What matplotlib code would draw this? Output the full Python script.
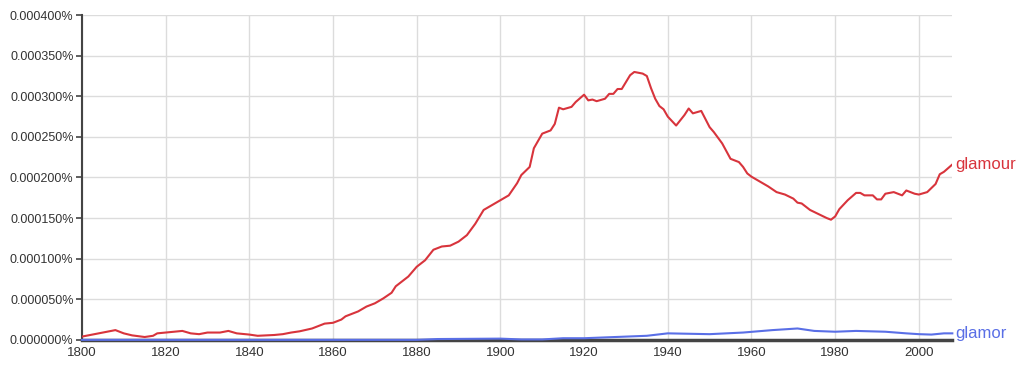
import matplotlib
matplotlib.use("Agg")
import matplotlib.pyplot as plt
from matplotlib.ticker import FuncFormatter

plt.rcParams.update({'font.family': ['Liberation Sans', 'DejaVu Sans'], 'font.size': 9})

RED = "#d8343c"; BLUE = "#5a6fe6"; GRID = "#dcdcdc"; AXIS = "#444444"

# values in units of 0.000001 %
glamour_years = [1800, 1802, 1804, 1806, 1808, 1810, 1812, 1815, 1817, 1818, 1820, 1822,
                 1824, 1826, 1828, 1830, 1833, 1835, 1837, 1840, 1842, 1844, 1846, 1848,
                 1850, 1852, 1855, 1858, 1860, 1862, 1863, 1866, 1868, 1870, 1872, 1874,
                 1875, 1878, 1880, 1882, 1884, 1886, 1888, 1890, 1892, 1894, 1896, 1898,
                 1900, 1902, 1904, 1905, 1907, 1908, 1910, 1912, 1913, 1914, 1915, 1917,
                 1918, 1920, 1921, 1922, 1923, 1925, 1926, 1927, 1928, 1929, 1931, 1932,
                 1934, 1935, 1936, 1937, 1938, 1939, 1940, 1942, 1944, 1945, 1946, 1948,
                 1950, 1951, 1953, 1955, 1956, 1957, 1958, 1959, 1960, 1962, 1964, 1966,
                 1968, 1970, 1971, 1972, 1974, 1976, 1978, 1979, 1980, 1981, 1983, 1985,
                 1986, 1987, 1989, 1990, 1991, 1992, 1994, 1996, 1997, 1998, 1999, 2000,
                 2002, 2004, 2005, 2006, 2008]
glamour_vals = [4, 6, 8, 10, 12, 8, 5.5, 3.5, 5, 8, 9, 10,
                11, 8, 7, 9, 9, 11, 8, 6.5, 5, 5.5, 6, 7,
                9, 10.5, 14, 20, 21, 25, 29, 35, 41, 45, 51, 58,
                66, 78, 90, 98, 111, 115, 116, 121, 129, 143, 160, 166,
                172, 178, 193, 203, 213, 236, 254, 258, 266, 286, 284, 287,
                293, 302, 295, 296, 294, 297, 303, 303, 309, 309, 326, 330,
                328, 325, 310, 297, 288, 284, 275, 264, 277, 285, 279, 282,
                262, 256, 242, 223, 221, 219, 213, 205, 201, 195, 189, 182,
                179, 174, 169, 168, 160, 155, 150, 148, 152, 161, 172, 181,
                181, 178, 178, 173, 173, 180, 182, 178, 184, 182, 180, 179,
                182, 192, 204, 207, 216]

glamor_years = [1800, 1880, 1885, 1900, 1905, 1910, 1915, 1920, 1925, 1930, 1935, 1940,
                1950, 1958, 1965, 1971, 1975, 1980, 1985, 1992, 1997, 2000, 2003, 2006, 2008]
glamor_vals = [0, 0, 1, 1.5, 0.5, 0.5, 2, 2, 3, 4, 5, 8,
               7, 9, 12, 14, 11, 10, 11, 10, 8, 7, 6.5, 8, 8]

SCALE = 1e-6  # one unit = 0.000001 %

fig = plt.figure(figsize=(10.24, 3.69), dpi=100)
fig.patch.set_facecolor('white')
ax = fig.add_axes([0.080, 0.079, 0.850, 0.880])

ax.plot(glamour_years, [v * SCALE for v in glamour_vals], color=RED, lw=1.5, zorder=3)
ax.plot(glamor_years, [v * SCALE for v in glamor_vals], color=BLUE, lw=1.5, zorder=4, clip_on=False)

ax.set_xlim(1800, 2008)
ax.set_ylim(0, 0.0004)
ax.set_xticks(range(1800, 2001, 20))
ax.set_yticks([i * 0.00005 for i in range(9)])
ax.yaxis.set_major_formatter(FuncFormatter(lambda v, p: f"{v:.6f}%"))

ax.grid(True, color=GRID, lw=1)
ax.set_axisbelow(True)
for s in ['top', 'right']:
    ax.spines[s].set_visible(False)
ax.spines['left'].set_color(AXIS); ax.spines['left'].set_linewidth(1.5)
ax.spines['bottom'].set_color(AXIS); ax.spines['bottom'].set_linewidth(2.5)
ax.tick_params(axis='y', length=4, width=1.2, color=AXIS, pad=2, labelcolor='#333333')
ax.tick_params(axis='x', length=0, pad=5, labelcolor='#333333', labelsize=9.5)

ax.text(2008.6, glamour_vals[-1] * SCALE, "glamour", color=RED, va='center', ha='left',
        fontsize=12, clip_on=False)
ax.text(2008.6, glamor_vals[-1] * SCALE, "glamor", color=BLUE, va='center', ha='left',
        fontsize=12, clip_on=False)

fig.savefig("out.png", dpi=100, facecolor='white')
